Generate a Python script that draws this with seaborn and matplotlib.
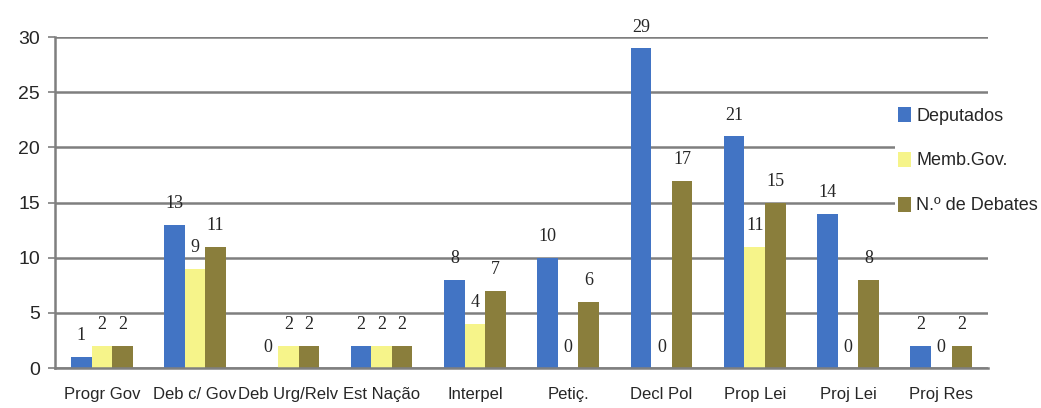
import numpy as np
import pandas as pd
import matplotlib
matplotlib.use("Agg")
import matplotlib.pyplot as plt
import seaborn as sns

# data
categories = ["Progr Gov", "Deb c/ Gov", "Deb Urg/Relv", "Est Nação", "Interpel",
              "Petiç.", "Decl Pol", "Prop Lei", "Proj Lei", "Proj Res"]
deputados = [1, 13, 0, 2, 8, 10, 29, 21, 14, 2]
memb_gov = [2, 9, 2, 2, 4, 0, 0, 11, 0, 0]
n_debates = [2, 11, 2, 2, 7, 6, 17, 15, 8, 2]
series = ["Deputados", "Memb.Gov.", "N.º de Debates"]
colors = ["#4274C4", "#F6F48A", "#8A7E3C"]

df = pd.DataFrame({
    "cat": categories * 3,
    "serie": np.repeat(series, len(categories)),
    "valor": deputados + memb_gov + n_debates,
})

sns.set_style("white")
plt.rcParams["font.family"] = ["Liberation Sans Narrow", "Liberation Sans", "DejaVu Sans"]

fig = plt.figure(figsize=(10.41, 4.08), dpi=100)
ax = fig.add_axes([0.053, 0.098, 0.896, 0.811])

sns.barplot(data=df, x="cat", y="valor", hue="serie", order=categories,
            hue_order=series, palette=colors, width=0.66, saturation=1,
            edgecolor="none", ax=ax)

for cont in ax.containers:
    ax.bar_label(cont, fmt="%d", padding=9, fontsize=13,
                 family=["Liberation Serif", "DejaVu Serif"])

ax.set_ylim(0, 30)
ax.set_xlim(-0.5, len(categories) - 0.5)
ax.set_yticks(range(0, 31, 5))
ax.yaxis.grid(True, color="#7f7f7f", lw=1.8)
ax.set_axisbelow(True)
ax.set_xlabel("")
ax.set_ylabel("")

ax.set_xticks(np.arange(-0.5, len(categories), 1), minor=True)
ax.tick_params(axis="x", which="major", length=0, labelsize=12, pad=14)
ax.tick_params(axis="x", which="minor", length=6, width=1.4, color="#7f7f7f", direction="out")
ax.tick_params(axis="y", length=5, width=1.2, color="#7f7f7f", labelsize=14, pad=6, left=True)

for side in ["top", "right"]:
    ax.spines[side].set_visible(False)
for side in ["left", "bottom"]:
    ax.spines[side].set_color("#7f7f7f")
    ax.spines[side].set_linewidth(1.8)

leg = ax.legend(loc="upper left", bbox_to_anchor=(0.9, 0.8), frameon=True,
                fontsize=13, handlelength=0.7, handleheight=0.9, handletextpad=0.3,
                labelspacing=1.5, borderpad=0.2, borderaxespad=0)
leg.get_frame().set_facecolor("white")
leg.get_frame().set_edgecolor("none")
leg.get_frame().set_alpha(1)

fig.savefig("out.png", dpi=100)
